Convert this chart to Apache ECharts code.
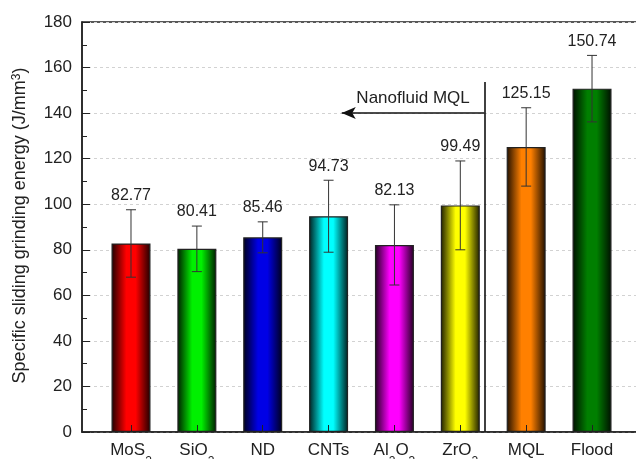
<!DOCTYPE html>
<html>
<head>
<meta charset="utf-8">
<script src="https://cdn.jsdelivr.net/npm/echarts@6/dist/echarts.min.js"></script>
<style>
  html, body { margin: 0; padding: 0; background: #fff; }
  #chart { width: 636px; height: 459px; }
</style>
</head>
<body>
<div id="chart"></div>
<script>
// Specific sliding grinding energy per lubrication condition
const categories = ['{m|MoS}{s|2}', '{m|SiO}{s|2}', '{m|ND}', '{m|CNTs}', '{m|Al}{s|2}{m|O}{s|3}', '{m|ZrO}{s|2}', '{m|MQL}', '{m|Flood}'];
const positions = [1, 2, 3, 4, 5, 6, 7, 8];
const energy = [82.77, 80.41, 85.46, 94.73, 82.13, 99.49, 125.15, 150.74];
const errors = [14.8, 10.0, 6.8, 15.8, 17.6, 19.5, 17.2, 14.6];
const barColors = ['#ff0000', '#00f000', '#0000e6', '#00ffff', '#ff00ff', '#ffff00', '#ff8000', '#007f00'];
const yTicks = [0, 20, 40, 60, 80, 100, 120, 140, 160, 180];
const yTitle = 'Specific sliding grinding energy (J/mm{sup|3})';

const FONT = 'Arial, "Liberation Sans", sans-serif';

function shade(hex, f) {
  const n = parseInt(hex.slice(1), 16);
  const r = Math.round(((n >> 16) & 255) * f);
  const g = Math.round(((n >> 8) & 255) * f);
  const b = Math.round((n & 255) * f);
  return 'rgb(' + r + ',' + g + ',' + b + ')';
}

function barFill(hex) {
  return new echarts.graphic.LinearGradient(0, 0, 1, 0, [
    { offset: 0, color: shade(hex, 0.12) },
    { offset: 0.38, color: hex },
    { offset: 0.62, color: hex },
    { offset: 1, color: shade(hex, 0.12) }
  ]);
}

const barData = positions.map((x, i) => ({
  value: [x, energy[i]],
  itemStyle: { color: barFill(barColors[i]) }
}));
const errData = positions.map((x, i) => [x, energy[i], errors[i]]);

// plot frame runs past the right edge of the canvas
const GRID_LEFT = 82;
const GRID_WIDTH = 574;
const X_MIN = 0.256;
const X_MAX = X_MIN + GRID_WIDTH / 65.86;

const chart = echarts.init(document.getElementById('chart'), null, { renderer: 'canvas' });

chart.setOption({
  animation: false,
  backgroundColor: '#fff',
  textStyle: { fontFamily: FONT },
  grid: {
    left: GRID_LEFT, width: GRID_WIDTH, top: 22, bottom: 27,
    outerBoundsMode: 'none',
    containLabel: false,
    show: true, borderColor: '#222', borderWidth: 1.5
  },
  graphic: [
    {
      type: 'text',
      x: 20, y: 225.5,
      rotation: Math.PI / 2,
      style: {
        text: yTitle,
        fontSize: 18, fontFamily: FONT, fill: '#222',
        align: 'center', verticalAlign: 'middle',
        rich: { sup: { fontSize: 12, verticalAlign: 'top', lineHeight: 12, fill: '#222', fontFamily: FONT } }
      }
    }
  ],
  xAxis: {
    type: 'value',
    min: X_MIN, max: X_MAX,
    z: 5,
    axisLine: { show: true, lineStyle: { color: '#222', width: 1.5 } },
    axisTick: { show: true, inside: true, length: 7, customValues: positions, lineStyle: { color: '#222', width: 1 } },
    splitLine: { show: false },
    axisLabel: {
      customValues: positions,
      margin: 10,
      color: '#222',
      fontFamily: FONT,
      formatter: v => categories[Math.round(v) - 1] || '',
      rich: {
        m: { fontSize: 17, lineHeight: 26, verticalAlign: 'top', color: '#222', fontFamily: FONT },
        s: { fontSize: 12, lineHeight: 12, verticalAlign: 'bottom', color: '#222', fontFamily: FONT }
      }
    }
  },
  yAxis: {
    type: 'value',
    min: yTicks[0], max: yTicks[yTicks.length - 1], interval: 20,
    axisLine: { show: true, lineStyle: { color: '#222', width: 1.5 } },
    axisTick: { show: true, inside: true, length: 8, lineStyle: { color: '#222' } },
    minorTick: { show: true, splitNumber: 2, length: 5, lineStyle: { color: '#222' } },
    splitLine: { show: true, lineStyle: { color: '#d2d2d2', type: [3, 3], width: 1 } },
    axisLabel: { fontSize: 17, color: '#222', margin: 10, fontFamily: FONT }
  },
  series: [
    {
      type: 'bar',
      data: barData,
      barWidth: 39,
      itemStyle: { borderColor: '#222', borderWidth: 1.2 },
      markLine: {
        silent: true,
        animation: false,
        lineStyle: { color: '#111', width: 1.6, type: 'solid' },
        data: [
          [
            { coord: [6.365, 153.7], symbol: 'none', label: { show: false } },
            { coord: [6.365, 0], symbol: 'none' }
          ],
          [
            { coord: [4.2, 140], symbol: 'arrow', symbolSize: [9, 14],
              label: { show: true, position: 'middle', formatter: 'Nanofluid MQL', fontSize: 17, color: '#222', fontFamily: FONT, distance: 6 } },
            { coord: [6.365, 140], symbol: 'none' }
          ]
        ]
      }
    },
    {
      type: 'custom',
      data: errData,
      z: 4,
      renderItem: function (params, api) {
        const x = api.value(0);
        const v = api.value(1);
        const e = api.value(2);
        const top = api.coord([x, v + e]);
        const bot = api.coord([x, v - e]);
        const cap = 5;
        const ls = { stroke: '#333', lineWidth: 1 };
        return {
          type: 'group',
          children: [
            { type: 'line', shape: { x1: top[0], y1: top[1], x2: bot[0], y2: bot[1] }, style: ls },
            { type: 'line', shape: { x1: top[0] - cap, y1: top[1], x2: top[0] + cap, y2: top[1] }, style: ls },
            { type: 'line', shape: { x1: bot[0] - cap, y1: bot[1], x2: bot[0] + cap, y2: bot[1] }, style: ls },
            {
              type: 'text',
              style: {
                x: top[0], y: top[1] - 6,
                text: v.toFixed(2),
                fontSize: 16, fontFamily: FONT, fill: '#222',
                align: 'center', verticalAlign: 'bottom'
              }
            }
          ]
        };
      }
    }
  ]
});
</script>
</body>
</html>
